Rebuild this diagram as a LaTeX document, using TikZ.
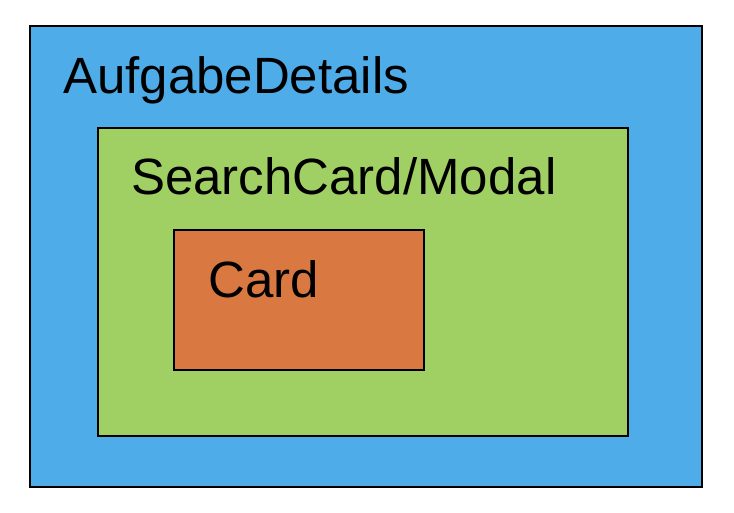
\documentclass[tikz,border=0pt]{standalone}
\usepackage{fontspec}
\setmainfont{Liberation Sans}
\definecolor{outerblue}{RGB}{78,173,232}
\definecolor{midgreen}{RGB}{160,207,99}
\definecolor{innerorange}{RGB}{218,120,66}
\begin{document}
\begin{tikzpicture}[x=1pt, y=-1pt, box/.style={draw=black, line width=2pt},
  label/.style={anchor=base west, inner sep=0pt, font=\fontsize{51}{60}\selectfont}]
\useasboundingbox (0,0) rectangle (734,512);

\draw[box, fill=outerblue] (30,26) rectangle (702,487);
\draw[box, fill=midgreen] (98,128) rectangle (628,436);
\draw[box, fill=innerorange] (174,230) rectangle (424,370);

\node[label] (aufgabe) at (63,93) {AufgabeDetails};
\node[label] (search) at (131,194) {SearchCard/Modal};
\node[label] (card) at (208,297) {Card};
\end{tikzpicture}
\end{document}
